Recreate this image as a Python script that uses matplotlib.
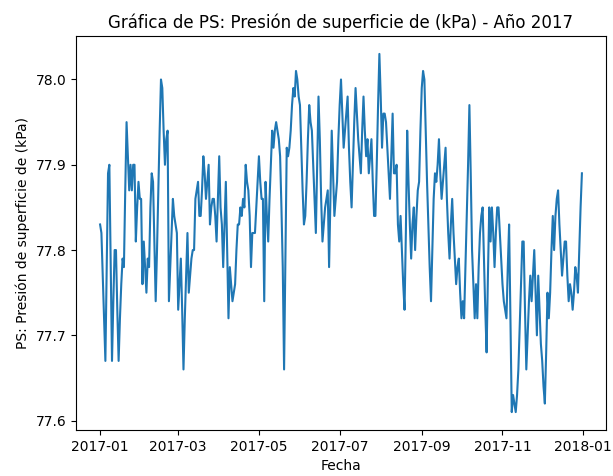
import numpy as np
import pandas as pd
import matplotlib
matplotlib.use("Agg")
import matplotlib.pyplot as plt

# daily surface pressure (kPa), 2017, read month by month
ene = [77.83, 77.82, 77.77, 77.72, 77.67, 77.78, 77.89, 77.90, 77.78, 77.67,
       77.74, 77.80, 77.80, 77.73, 77.67, 77.72, 77.76, 77.79, 77.78, 77.87,
       77.95, 77.91, 77.87, 77.90, 77.87, 77.90, 77.90, 77.81, 77.85, 77.88,
       77.86]
feb = [77.86, 77.76, 77.81, 77.78, 77.75, 77.79, 77.78, 77.85, 77.89,
       77.88, 77.81, 77.74, 77.80, 77.87, 77.94, 78.00, 77.99, 77.94, 77.90,
       77.93, 77.94, 77.74, 77.78, 77.82, 77.86, 77.84, 77.83, 77.82]
mar = [77.73,
       77.76, 77.79, 77.73, 77.66, 77.72, 77.77, 77.82, 77.75, 77.77, 77.79,
       77.80, 77.80, 77.86, 77.87, 77.88, 77.84, 77.84, 77.87, 77.91, 77.89,
       77.86, 77.88, 77.90, 77.83, 77.85, 77.86, 77.86, 77.84, 77.81, 77.86]
abr = [77.91, 77.85, 77.83, 77.78, 77.83, 77.88, 77.80, 77.72, 77.78, 77.76,
       77.74, 77.75, 77.76, 77.80, 77.83, 77.83, 77.85, 77.84, 77.86, 77.85,
       77.90, 77.88, 77.87, 77.84, 77.78, 77.82, 77.82, 77.82, 77.85, 77.88]
may = [77.91, 77.88, 77.86, 77.86, 77.74, 77.88, 77.84, 77.81, 77.86, 77.90,
       77.94, 77.92, 77.94, 77.95, 77.94, 77.93, 77.91, 77.85, 77.78, 77.66,
       77.79, 77.92, 77.91, 77.92, 77.94, 77.97, 77.99, 77.98, 78.01, 78.00,
       77.98]
jun = [77.97, 77.92, 77.87, 77.83, 77.84, 77.88, 77.93, 77.97, 77.95,
       77.94, 77.90, 77.86, 77.82, 77.90, 77.98, 77.93, 77.86, 77.81, 77.83,
       77.85, 77.86, 77.87, 77.78, 77.86, 77.94, 77.89, 77.84, 77.86, 77.88,
       77.93]
jul = [77.97, 78.00, 77.96, 77.92, 77.94, 77.96, 77.98, 77.92, 77.88,
       77.85, 77.90, 77.95, 77.99, 77.96, 77.93, 77.91, 77.89, 77.94, 77.98,
       77.94, 77.91, 77.93, 77.89, 77.91, 77.93, 77.88, 77.84, 77.84, 77.90,
       77.97, 78.03]
ago = [77.98, 77.92, 77.96, 77.96, 77.95, 77.92, 77.89, 77.86,
       77.91, 77.96, 77.89, 77.89, 77.90, 77.83, 77.81, 77.84, 77.80, 77.76,
       77.73, 77.82, 77.94, 77.88, 77.83, 77.79, 77.83, 77.85, 77.80, 77.84,
       77.87, 77.88, 77.94]
sep = [77.99, 78.01, 78.00, 77.94, 77.88, 77.83, 77.78, 77.74, 77.80, 77.86,
       77.89, 77.88, 77.90, 77.93, 77.89, 77.86, 77.88, 77.90, 77.92, 77.86,
       77.82, 77.79, 77.83, 77.86, 77.82, 77.79, 77.76, 77.78, 77.79, 77.75]
oct_ = [77.72, 77.74, 77.72, 77.78, 77.84, 77.90, 77.97, 77.89, 77.80, 77.76,
        77.72, 77.76, 77.72, 77.78, 77.82, 77.84, 77.85, 77.79, 77.73, 77.68,
        77.77, 77.85, 77.81, 77.85, 77.82, 77.78, 77.82, 77.85, 77.85, 77.82,
        77.79]
nov = [77.76, 77.74, 77.73, 77.72, 77.78, 77.83, 77.72, 77.61, 77.63, 77.62,
       77.61, 77.63, 77.66, 77.71, 77.76, 77.81, 77.81, 77.73, 77.66, 77.70,
       77.74, 77.77, 77.74, 77.77, 77.80, 77.75, 77.70, 77.77, 77.73, 77.69]
dic = [77.67, 77.64, 77.62, 77.68, 77.75, 77.72, 77.75, 77.80, 77.84, 77.80,
       77.84, 77.86, 77.87, 77.83, 77.80, 77.77, 77.79, 77.81, 77.81, 77.77,
       77.74, 77.76, 77.75, 77.73, 77.75, 77.78, 77.77, 77.75, 77.80, 77.85,
       77.89]

ps = np.array(ene + feb + mar + abr + may + jun + jul + ago + sep + oct_ + nov + dic)
fechas = pd.date_range("2017-01-01", periods=len(ps), freq="D")

fig = plt.figure(figsize=(6.13, 4.76), dpi=100)
ax = fig.add_axes([76 / 613, 46 / 476, 530 / 613, 394 / 476])
ax.plot(fechas, ps)
ax.set_title("Gráfica de PS: Presión de superficie de (kPa) - Año 2017")
ax.set_xlabel("Fecha")
ax.set_ylabel("PS: Presión de superficie de (kPa)")
fig.savefig("out.png")
